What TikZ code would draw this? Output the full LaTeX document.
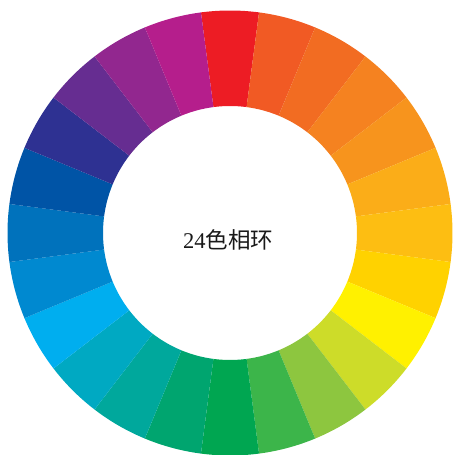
\documentclass[tikz,border=0pt]{standalone}
\usepackage{fontspec}
\setmainfont{Liberation Serif}
\newfontfamily\cjk{Noto Sans CJK SC}
\begin{document}
\begin{tikzpicture}[x=1pt,y=1pt,
  labeltext/.style={font=\fontsize{22.5}{26}\selectfont, text=black!90, inner sep=0pt}]
\useasboundingbox (0,0) rectangle (455,455);
\coordinate (C) at (230,222);
\foreach \c [count=\i from 0] in {ED1C24,F15A24,F26C22,F58220,F7941D,FBAD18,FDBE12,FFD200,FFF100,CDDC29,8DC63F,3CB54A,00A651,00A56F,00A89C,00A9C2,00AEEF,0089D0,0072BC,0054A6,2E3192,662D91,92278F,B51E8C} {
  \definecolor{segcol}{HTML}{\c}
  \pgfmathsetmacro\s{90-15*\i+7.5}
  \pgfmathsetmacro\e{90-15*\i-7.5}
  \fill[segcol,shift={(C)}] (\s:222.5) arc[start angle=\s,end angle=\e,radius=222.5]
     -- (\e:127) arc[start angle=\e,end angle=\s,radius=127] -- cycle;
}
\node[labeltext] (title) at (228,215) {24{\cjk 色相环}};
\end{tikzpicture}
\end{document}
